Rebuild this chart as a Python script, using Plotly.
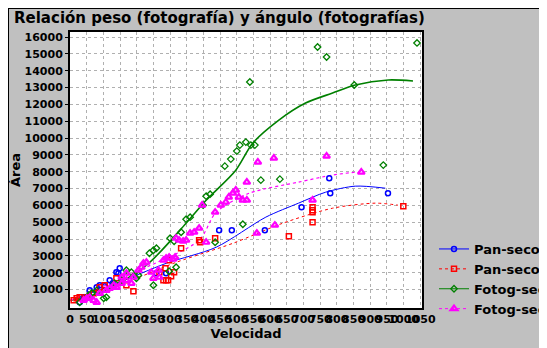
import plotly.graph_objects as go

# ---------------- data ----------------
x_ticks = list(range(0, 1051, 50))
y_ticks = list(range(1000, 16001, 1000))

series_names = ["Pan-seco", "Pan-seco-r", "Fotog-seco", "Fotog-seco-r"]
series_colors = ["#0000ff", "#ff0000", "#008000", "#ff00ff"]

# scatter points
blue_x = [777, 780, 953, 694, 447, 485, 584, 288, 259, 139, 145, 119, 155, 89, 80, 59, 41, 29, 149, 128, 104]
blue_y = [7616, 6724, 6724, 5891, 4522, 4522, 4522, 1964, 1964, 2023, 1964, 1547, 1726, 1250, 1131, 952, 536, 238, 2261, 1369, 1190]

red_x = [999, 727, 727, 727, 727, 656, 435, 387, 390, 333, 286, 280, 288, 294, 312, 297, 268, 190, 139, 104, 89, 71, 50, 29, 20, 11, 303, 169]
red_y = [5950, 5891, 5712, 5593, 4998, 4165, 4046, 3927, 3808, 3451, 2261, 1547, 1547, 1547, 2023, 2737, 2023, 893, 1666, 1250, 1131, 774, 536, 536, 476, 357, 1785, 1250]

green_x = [742, 769, 539, 852, 1040, 464, 482, 500, 509, 527, 542, 554, 939, 572, 629, 408, 420, 399, 348, 360, 333, 300, 312, 259, 250, 238, 518, 435, 318, 297, 250, 205, 199, 184, 169, 109, 101, 56, 65, 29, 80, 134, 155]
green_y = [15410, 14816, 13328, 13150, 15650, 8330, 8747, 9223, 9580, 9758, 9580, 9580, 8390, 7497, 7557, 6545, 6664, 6010, 5177, 5296, 4403, 4046, 3868, 3451, 3332, 3154, 4879, 3808, 2321, 2083, 1250, 1845, 1666, 2023, 2142, 536, 476, 655, 774, 238, 950, 1370, 1550]

pink_x = [563, 611, 769, 873, 530, 488, 497, 476, 506, 518, 530, 452, 467, 435, 396, 387, 372, 360, 348, 339, 327, 318, 408, 614, 560, 727, 229, 220, 214, 205, 288, 297, 309, 315, 280, 265, 268, 250, 190, 169, 155, 140, 131, 119, 109, 89, 80, 71, 59, 50, 41, 169, 155, 244, 184]
pink_y = [8568, 8806, 8925, 7973, 7378, 6724, 6902, 6486, 6486, 6307, 6307, 6010, 6188, 5593, 6010, 4641, 4403, 4344, 3927, 3868, 3927, 4046, 3808, 4820, 4344, 6307, 2618, 2559, 2321, 2142, 2856, 2916, 2797, 2916, 2737, 2142, 1726, 1666, 1726, 1547, 1369, 1131, 1250, 1071, 952, 774, 238, 357, 536, 476, 357, 1964, 1726, 2023, 1369]

# fitted curves
blue_fit_x = [2, 140, 289, 438, 587, 685, 766, 855, 945]
blue_fit_y = [357, 1370, 2560, 3510, 5300, 6130, 6780, 7140, 7020]

red_fit_x = [2, 169, 319, 489, 638, 787, 915, 983]
red_fit_y = [357, 1430, 2620, 3750, 4940, 5830, 6130, 6010]

green_fit_x = [2, 90, 229, 348, 408, 497, 548, 626, 706, 787, 855, 954, 1028]
green_fit_y = [357, 800, 2440, 4940, 6300, 8092, 9700, 11067, 12079, 12674, 13150, 13447, 13388]

pink_fit_x = [2, 208, 387, 438, 537, 685, 787, 855]
pink_fit_y = [357, 2140, 3930, 5590, 6720, 7380, 7800, 7970]

# ---------------- figure ----------------
fig = go.Figure()

pts = [(blue_x, blue_y, "circle-open"), (red_x, red_y, "square-open"),
       (green_x, green_y, "diamond-open"), (pink_x, pink_y, "triangle-up-open")]
fits = [(blue_fit_x, blue_fit_y, "solid"), (red_fit_x, red_fit_y, "dot"),
        (green_fit_x, green_fit_y, "solid"), (pink_fit_x, pink_fit_y, "dot")]
sizes = [5, 5, 5, 6]
widths = [1.5, 1.5, 1.3, 2.2]
lwidths = [1, 1, 1.6, 1.2]

for i in range(4):
    fx, fy, dash = fits[i]
    fig.add_trace(go.Scatter(x=fx, y=fy, mode="lines",
                             line=dict(color=series_colors[i], width=lwidths[i], dash=dash, shape="spline", smoothing=0.8),
                             showlegend=False, hoverinfo="skip"))
for i in range(4):
    px_, py_, sym = pts[i]
    fig.add_trace(go.Scatter(x=px_, y=py_, mode="markers",
                             marker=dict(symbol=sym, size=sizes[i], color=series_colors[i],
                                         line=dict(width=widths[i], color=series_colors[i])),
                             showlegend=False))
for i in range(4):
    fig.add_trace(go.Scatter(x=[None], y=[None], mode="lines+markers", name=series_names[i],
                             line=dict(color=series_colors[i], width=1, dash=fits[i][2]),
                             marker=dict(symbol=pts[i][2], size=sizes[i], color=series_colors[i],
                                         line=dict(width=widths[i], color=series_colors[i]))))

W, H = 547, 348
L, R, T, B = 62, 414, 24, 300
pw, ph = R - L, B - T


def fx2p(p):
    return (p - L) / pw


def fy2p(p):
    return (B - p) / ph


shapes = [
    dict(type="line", xref="paper", yref="paper", x0=fx2p(0), x1=fx2p(0), y0=fy2p(400), y1=fy2p(0),
         line=dict(color="black", width=2)),
    dict(type="line", xref="paper", yref="paper", x0=fx2p(0), x1=fx2p(600), y0=fy2p(0), y1=fy2p(0),
         line=dict(color="black", width=2)),
]

tickfont = dict(family="DejaVu Sans, Arial", size=11, color="black", weight="bold")

fig.update_layout(
    width=W, height=H,
    margin=dict(l=L, r=W - R, t=T, b=H - B, autoexpand=False),
    paper_bgcolor="#c0c0c0",
    plot_bgcolor="white",
    shapes=shapes,
    title=dict(text="Relación peso (fotografía) y ángulo (fotografías)", x=6 / W, xanchor="left",
               y=1 - 10 / H, yanchor="middle",
               font=dict(family="DejaVu Sans, Arial", size=15, color="black", weight="bold")),
    xaxis=dict(range=[0, 1055], tickvals=x_ticks, ticktext=[str(v) for v in x_ticks], tickangle=0,
               showgrid=True, gridcolor="#b0b0b0", griddash="dot", gridwidth=1,
               showline=True, linecolor="black", linewidth=1.5, mirror=True, ticks="", zeroline=False,
               tickfont=tickfont,
               title=dict(text="Velocidad", font=dict(family="DejaVu Sans, Arial", size=13, color="black", weight="bold"),
                          standoff=2)),
    yaxis=dict(range=[-100, 16300], tickvals=y_ticks, ticktext=[str(v) for v in y_ticks],
               showgrid=True, gridcolor="#b0b0b0", griddash="dot", gridwidth=1,
               showline=True, linecolor="black", linewidth=2, mirror=True, ticks="outside", ticklen=3,
               tickcolor="black", zeroline=False,
               tickfont=tickfont,
               title=dict(text="Área", font=dict(family="DejaVu Sans, Arial", size=13, color="black", weight="bold"),
                          standoff=10)),
    legend=dict(x=fx2p(426), xanchor="left", y=fy2p(226), yanchor="top", bgcolor="rgba(0,0,0,0)",
                font=dict(family="DejaVu Sans, Arial", size=13, color="black", weight="bold"),
                tracegroupgap=0, itemwidth=30),
    showlegend=True,
)

fig.write_html("out.html")
